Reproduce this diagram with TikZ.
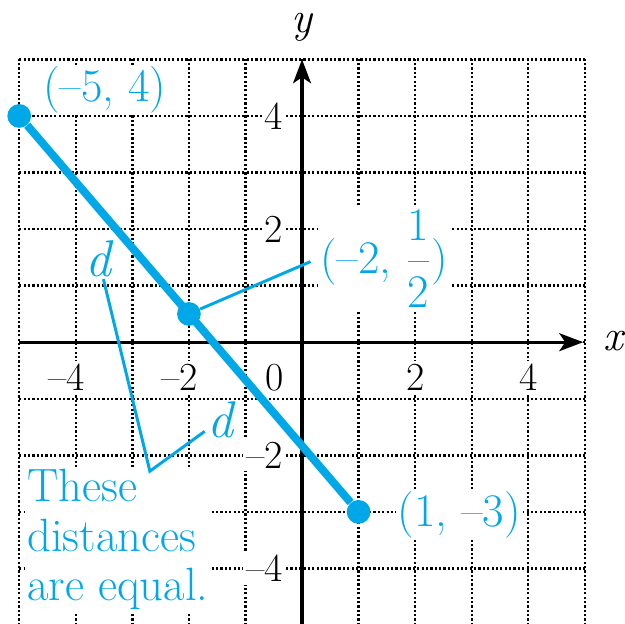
\documentclass[tikz,border=0pt]{standalone}
\usetikzlibrary{arrows.meta}
\definecolor{labcyan}{RGB}{0,168,232}

\begin{document}
\begin{tikzpicture}[>={Stealth[length=12pt,width=9pt,inset=3pt]},
  gridline/.style={line width=1.2pt,dash pattern=on 1.1pt off 1.1pt},
  axis/.style={line width=1.6pt,->},
  tick/.style={fill=white,inner sep=1.5pt,font=\fontsize{20}{22}\selectfont},
  axlab/.style={inner sep=0pt,font=\fontsize{22}{24}\selectfont\itshape},
  pt/.style={circle,fill=labcyan,inner sep=0pt,minimum size=0.42cm},
  lab/.style={text=labcyan,fill=white,inner sep=1pt,font=\fontsize{23.5}{25}\selectfont},
  dlab/.style={text=labcyan,inner sep=1pt,font=\fontsize{26}{28}\selectfont\itshape},
  seg/.style={labcyan,line width=4pt},
  lead/.style={labcyan,line width=1.5pt}]
\useasboundingbox (-5.34,-4.98) rectangle (5.71,6.05);
\draw[gridline] (-5,-5) grid (5,5);

\node[tick] (xm4) at (-4,-0.62) {\llap{--}4};
\node[tick] (xm2) at (-2,-0.62) {\llap{--}2};
\node[tick] (xo) at (-0.48,-0.62) {0};
\node[tick] (x2) at (2,-0.62) {2};
\node[tick] (x4) at (4,-0.62) {4};
\node[tick,anchor=east] (y4) at (-0.28,4) {4};
\node[tick,anchor=east] (y2) at (-0.28,2) {2};
\node[tick,anchor=east] (ym2) at (-0.28,-2) {--2};
\node[tick,anchor=east] (ym4) at (-0.28,-4) {--4};

\draw[axis] (0,-5) -- (0,5);
\draw[axis] (-5,0) -- (4.97,0);
\node[axlab] (ylab) at (0,5.56) {y};
\node[axlab] (xlab) at (5.5,0.02) {x};

\node[pt] (P) at (-5,4) {};
\node[pt] (M) at (-2,0.5) {};
\node[pt] (Q) at (1,-3) {};
\draw[seg] (P) -- (Q);

\node[lab,anchor=west] (Plab) at (-4.62,4.46) {(--5, 4)};
\node[lab,anchor=west] (Qlab) at (1.65,-3.05) {(1, --3)};
\node[lab,anchor=west] (Mlab) at (0.28,1.48) {(--2, $\displaystyle\frac{\hbox{1}}{\hbox{2}}$)};
\draw[lead,shorten >=4pt] (M) -- (Mlab.west);

\node[dlab] (d1) at (-3.6,1.48) {d};
\node[dlab] (d2) at (-1.45,-1.38) {d};
\coordinate (brk) at (-2.69,-2.28);
\node[lab,anchor=north west,align=left] (note) at (-4.9,-2.2) {These\\distances\\are equal.};
\draw[lead] (d1) -- (brk) -- (d2);
\end{tikzpicture}
\end{document}
